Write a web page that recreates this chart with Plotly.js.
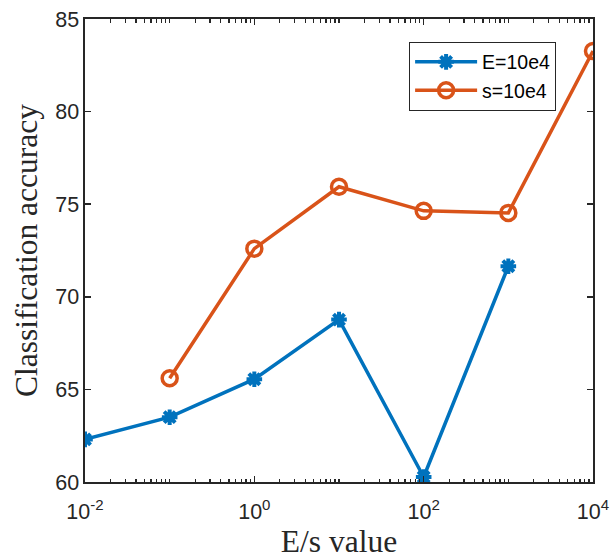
<!DOCTYPE html>
<html>
<head>
<meta charset="utf-8">
<script src="https://cdn.plot.ly/plotly-3.0.1.min.js"></script>
<style>html,body{margin:0;padding:0;background:#fff;}#chart{width:611px;height:559px;}</style>
</head>
<body>
<div id="chart"></div>
<script>
// Data
var xE = [0.01, 0.1, 1, 10, 100, 1000];
var accE = [62.3, 63.5, 65.55, 68.77, 60.27, 71.65];
var xS = [0.1, 1, 10, 100, 1000, 10000];
var accS = [65.6, 72.6, 75.94, 74.64, 74.53, 83.27];
var nameE = 'E=10e4';
var nameS = 's=10e4';
var xMajorVals = [0.01, 1, 100, 10000];
var xMajorText = ['10<sup>-2</sup>', '10<sup>0</sup>', '10<sup>2</sup>', '10<sup>4</sup>'];
var yTickVals = [60, 65, 70, 75, 80, 85];

// minor log ticks (axis decoration)
var minorVals = [];
for (var d = -2; d <= 3; d++) {
  for (var k = 2; k <= 10; k++) {
    var v = k * Math.pow(10, d);
    if (xMajorVals.indexOf(v) < 0) minorVals.push(v);
  }
}

var axisColor = '#262626';
var tickFont = {family: 'Liberation Sans, Arial, sans-serif', size: 21.5, color: axisColor};
var titleFont = {family: 'Liberation Serif, Times New Roman, serif', size: 31.5, color: axisColor};

var traces = [
  {
    x: xE, y: accE, name: nameE, type: 'scatter', mode: 'lines+markers',
    line: {color: '#0072BD', width: 3.5},
    marker: {symbol: 'asterisk-open', size: 13, color: '#0072BD', line: {color: '#0072BD', width: 4}}
  },
  {
    x: xS, y: accS, name: nameS, type: 'scatter', mode: 'lines+markers',
    line: {color: '#D95319', width: 3.5},
    marker: {symbol: 'circle-open', size: 15, color: '#D95319', line: {color: '#D95319', width: 3.5}}
  }
];

var layout = {
  width: 611, height: 559,
  margin: {l: 85, r: 18.4, t: 18.5, b: 77, pad: 0},
  paper_bgcolor: '#ffffff', plot_bgcolor: '#ffffff',
  showlegend: true,
  legend: {
    x: 0.638, y: 0.951, xanchor: 'left', yanchor: 'top',
    bgcolor: '#ffffff', bordercolor: axisColor, borderwidth: 1,
    font: {family: 'Liberation Sans, Arial, sans-serif', size: 19.5, color: '#000'},
    itemwidth: 62, tracegroupgap: 0
  },
  xaxis: {
    type: 'log', range: [-2, 4],
    tickmode: 'array', tickvals: xMajorVals, ticktext: xMajorText,
    ticks: 'inside', ticklen: 6, tickwidth: 1.5, tickcolor: axisColor,
    minor: {tickmode: 'array', tickvals: minorVals, ticks: 'inside', ticklen: 3.5, tickwidth: 1.3, tickcolor: axisColor, showgrid: false},
    showline: true, linecolor: axisColor, linewidth: 1.6, mirror: 'ticks',
    showgrid: false, zeroline: false,
    tickfont: tickFont, ticklabelstandoff: 10,
    title: {text: 'E/s value', font: titleFont, standoff: 16}
  },
  yaxis: {
    range: [60, 85],
    tickmode: 'array', tickvals: yTickVals,
    ticks: 'inside', ticklen: 6, tickwidth: 1.5, tickcolor: axisColor,
    showline: true, linecolor: axisColor, linewidth: 1.6, mirror: 'ticks',
    showgrid: false, zeroline: false,
    tickfont: tickFont,
    title: {text: 'Classification accuracy', font: titleFont, standoff: 8}
  }
};

Plotly.newPlot('chart', traces, layout, {displayModeBar: false, staticPlot: true});
</script>
</body>
</html>
